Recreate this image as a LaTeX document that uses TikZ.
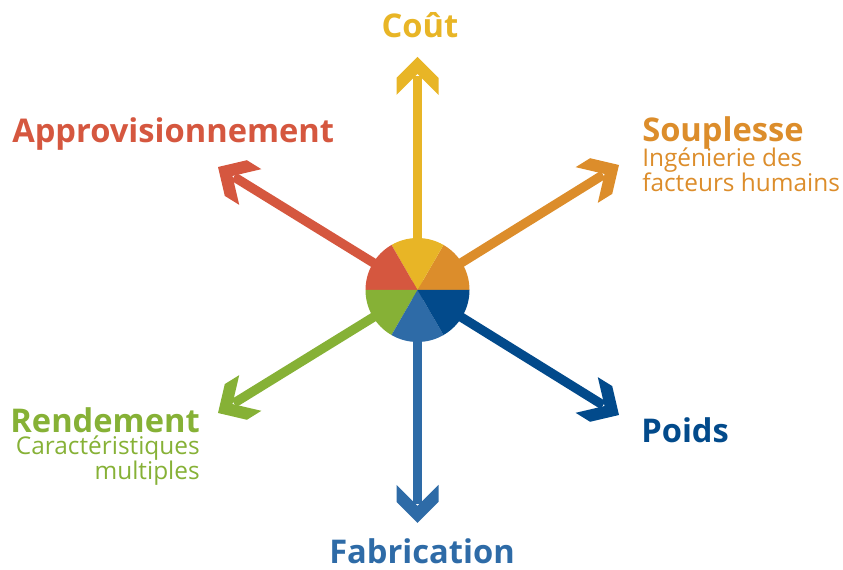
\documentclass[tikz,border=0pt]{standalone}
\usepackage{fontspec}
\setmainfont{Open Sans}
\usepackage{tikz}
\usetikzlibrary{positioning}
\definecolor{cCout}{HTML}{E8B526}
\definecolor{cSoup}{HTML}{DC8D2B}
\definecolor{cAppro}{HTML}{D5573F}
\definecolor{cRend}{HTML}{86B136}
\definecolor{cFab}{HTML}{2E6BA7}
\definecolor{cPoids}{HTML}{024A8B}
\tikzset{
  title/.style={inner sep=0pt, font=\fontsize{24.5}{28}\selectfont\bfseries},
  subtitle/.style={inner sep=0pt, font=\fontsize{18.3}{18}\selectfont},
  shaft/.style={line width=7pt, shorten >=14pt},
  chevron/.pic={
    \fill (0,0) -- (-21,-21) -- (-21,-38) -- (0,-17)
      -- (21,-38) -- (21,-21) -- cycle;
  }
}

\begin{document}
\begin{tikzpicture}[x=0.75pt, y=0.75pt]
    \useasboundingbox (0,0) rectangle (843,570);

    \coordinate (hub) at (417.5,280);
    \coordinate (tipCout) at (417.5,513);
    \coordinate (tipSoup) at (619,405);
    \coordinate (tipPoids) at (619,155);
    \coordinate (tipFab) at (417.5,47);
    \coordinate (tipRend) at (218,157);
    \coordinate (tipAppro) at (218,403);

    % shafts
    \draw [shaft, cCout] (hub) -- (tipCout);
    \draw [shaft, cSoup] (hub) -- (tipSoup);
    \draw [shaft, cPoids] (hub) -- (tipPoids);
    \draw [shaft, cFab] (hub) -- (tipFab);
    \draw [shaft, cRend] (hub) -- (tipRend);
    \draw [shaft, cAppro] (hub) -- (tipAppro);

    % heads
    \pic [fill=cCout] at (tipCout) {chevron};
    \pic [fill=cSoup, rotate=-58.2] at (tipSoup) {chevron};
    \pic [fill=cPoids, rotate=-121.8] at (tipPoids) {chevron};
    \pic [fill=cFab, rotate=180] at (tipFab) {chevron};
    \pic [fill=cRend, rotate=121.8] at (tipRend) {chevron};
    \pic [fill=cAppro, rotate=58.2] at (tipAppro) {chevron};

    % the wheel
    \fill [cSoup] (hub) -- ++(0:52) arc[start angle=0, end angle=60, radius=52] -- cycle;
    \fill [cCout] (hub) -- ++(60:52) arc[start angle=60, end angle=120, radius=52] -- cycle;
    \fill [cAppro] (hub) -- ++(120:52) arc[start angle=120, end angle=180, radius=52] -- cycle;
    \fill [cRend] (hub) -- ++(180:52) arc[start angle=180, end angle=240, radius=52] -- cycle;
    \fill [cFab] (hub) -- ++(240:52) arc[start angle=240, end angle=300, radius=52] -- cycle;
    \fill [cPoids] (hub) -- ++(300:52) arc[start angle=300, end angle=360, radius=52] -- cycle;

    % labels
    \node (cout) [title, cCout, anchor=base] at (420,532) {Coût};
    \node (appro) [title, cAppro, anchor=base west] at (12,427) {Approvisionnement};
    \node (soup) [title, cSoup, anchor=base west] at (642,428) {Souplesse};
    \node (soupSub) [subtitle, cSoup, anchor=base west, align=left] at (642,378)
      {Ingénierie des\\facteurs humains};
    \node (rend) [title, cRend, anchor=base east] at (200,137) {Rendement};
    \node (rendSub) [subtitle, cRend, anchor=base east, align=right] at (200,90)
      {Caractéristiques\\multiples};
    \node (poids) [title, cPoids, anchor=base west] at (641,127) {Poids};
    \node (fab) [title, cFab, anchor=base] at (422,6) {Fabrication};
\end{tikzpicture}
\end{document}
